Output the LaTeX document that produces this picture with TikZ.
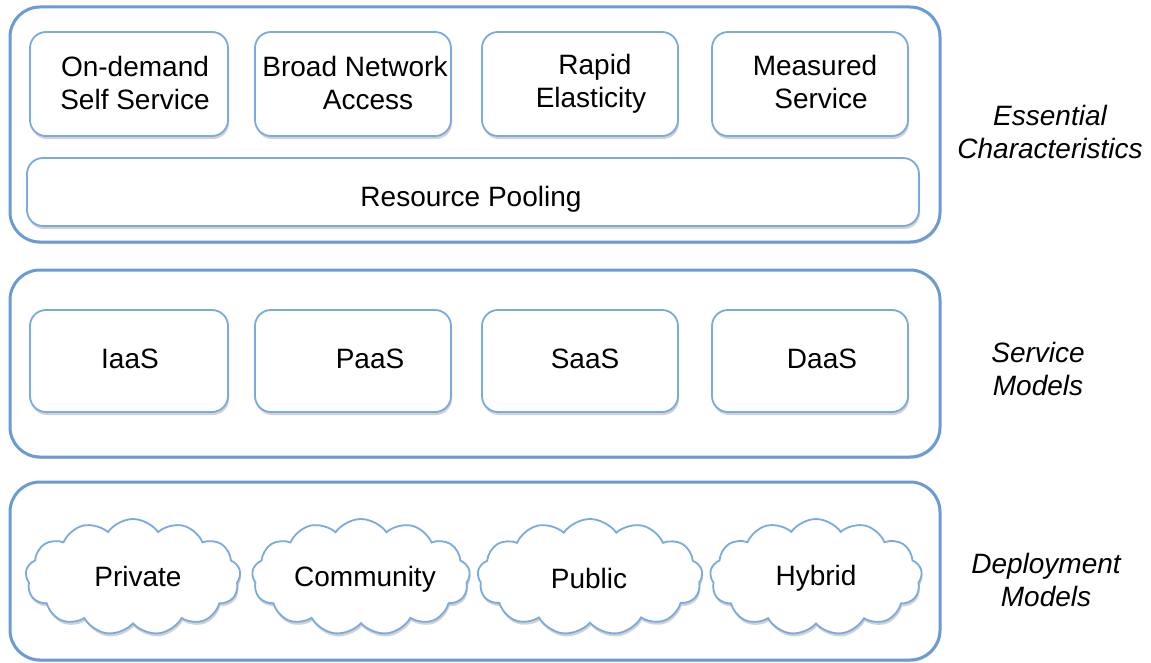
\documentclass[tikz,border=0pt]{standalone}
\usepackage{fontspec}
\setmainfont{Liberation Sans}
\usetikzlibrary{shapes.symbols,shadows}
\definecolor{outerblue}{HTML}{6A9BD5}
\definecolor{innerblue}{HTML}{7AAAE0}
\tikzset{
  outerbox/.style={draw=outerblue, line width=3pt, rounded corners=30pt, fill=white,
    drop shadow={opacity=0.25, shadow xshift=1pt, shadow yshift=-2pt}},
  innerbox/.style={draw=innerblue, line width=1.8pt, rounded corners=16pt, fill=white,
    drop shadow={opacity=0.35, shadow xshift=1pt, shadow yshift=-3pt}},
  cloudnode/.style={cloud, draw=innerblue, line width=1.8pt, fill=white, cloud puffs=13,
    cloud puff arc=110, cloud ignores aspect, inner sep=0pt,
    drop shadow={opacity=0.35, shadow xshift=1pt, shadow yshift=-3pt}},
  txt/.style={font=\fontsize{28}{33}\selectfont, align=center, inner sep=0pt},
  captxt/.style={font=\fontsize{28}{33}\selectfont\itshape, align=center, inner sep=0pt}
}
\begin{document}
\begin{tikzpicture}[x=1pt,y=-1pt]
\useasboundingbox (0,0) rectangle (1151,663);
% outer boxes
\draw[outerbox] (10,7) rectangle (940,242);
\draw[outerbox] (10,270) rectangle (940,457);
\draw[outerbox] (10,482) rectangle (940,660);
% essential characteristics
\draw[innerbox] (30,32) rectangle (228,136);
\draw[innerbox] (255,32) rectangle (451,136);
\draw[innerbox] (482,32) rectangle (678,136);
\draw[innerbox] (712,32) rectangle (908,136);
\draw[innerbox] (27,158) rectangle (919,226);
\node[txt] (od) at (135,83) {On-demand\\Self Service};
\node[txt] (bn) at (355,83) {Broad Network\\\hspace*{26pt}Access};
\node[txt] (re) at (591,84) {\hspace*{8pt}Rapid\\Elasticity};
\node[txt] (ms) at (815,82) {Measured\\\hspace*{12pt}Service};
\node[txt] (rp) at (471,199) {Resource Pooling};
% service models
\draw[innerbox] (30,310) rectangle (228,412);
\draw[innerbox] (255,310) rectangle (451,412);
\draw[innerbox] (482,310) rectangle (678,412);
\draw[innerbox] (712,310) rectangle (908,412);
\node[txt] (iaas) at (130,359) {IaaS};
\node[txt] (paas) at (370,359) {PaaS};
\node[txt] (saas) at (585,359) {SaaS};
\node[txt] (daas) at (822,359) {DaaS};
% deployment models
\node[cloudnode, minimum width=215pt, minimum height=116pt] (c1) at (133,577) {};
\node[cloudnode, minimum width=218pt, minimum height=116pt] (c2) at (361,577) {};
\node[cloudnode, minimum width=225pt, minimum height=116pt] (c3) at (590,577) {};
\node[cloudnode, minimum width=212pt, minimum height=116pt] (c4) at (816,577) {};
\node[txt] (pri) at (138,576) {Private};
\node[txt] (com) at (365,579) {Community};
\node[txt] (pub) at (589,578) {Public};
\node[txt] (hyb) at (816,578) {Hybrid};
% captions
\node[captxt] (ec) at (1050,132) {Essential\\Characteristics};
\node[captxt] (sm) at (1038,369) {Service\\Models};
\node[captxt] (dm) at (1046,580) {Deployment\\Models};
\end{tikzpicture}
\end{document}
